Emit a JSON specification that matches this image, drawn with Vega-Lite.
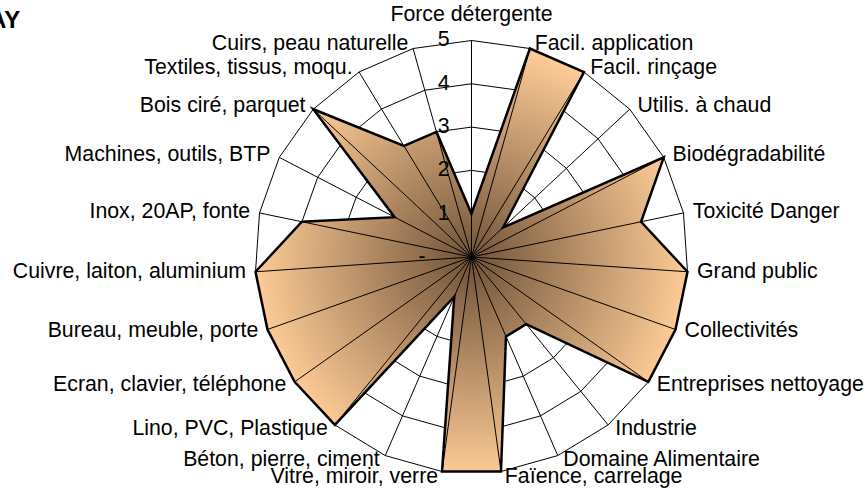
{
  "$schema": "https://vega.github.io/schema/vega-lite/v6.json",
  "width": 868,
  "height": 490,
  "autosize": {"type": "none"},
  "padding": 0,
  "background": "white",
  "config": {"view": {"stroke": null}, "font": "Liberation Sans"},
  "title": {"text": "AY", "anchor": "start", "frame": "group", "orient": "top", "offset": -33, "dx": -11, "baseline": "top", "fontSize": 24, "fontWeight": "bold", "font": "Liberation Sans", "color": "black"},
  "datasets": {
    "scores": [
      {"i": 0, "cat": "Force détergente", "value": 1},
      {"i": 1, "cat": "Facil. application", "value": 5},
      {"i": 2, "cat": "Facil. rinçage", "value": 5},
      {"i": 3, "cat": "Utilis. à chaud", "value": 1},
      {"i": 4, "cat": "Biodégradabilité", "value": 5},
      {"i": 5, "cat": "Toxicité Danger", "value": 4},
      {"i": 6, "cat": "Grand public", "value": 5},
      {"i": 7, "cat": "Collectivités", "value": 5},
      {"i": 8, "cat": "Entreprises nettoyage", "value": 5},
      {"i": 9, "cat": "Industrie", "value": 2},
      {"i": 10, "cat": "Domaine Alimentaire", "value": 2},
      {"i": 11, "cat": "Faïence, carrelage", "value": 5},
      {"i": 12, "cat": "Vitre, miroir, verre", "value": 5},
      {"i": 13, "cat": "Béton, pierre, ciment", "value": 1},
      {"i": 14, "cat": "Lino, PVC, Plastique", "value": 5},
      {"i": 15, "cat": "Ecran, clavier, téléphone", "value": 5},
      {"i": 16, "cat": "Bureau, meuble, porte", "value": 5},
      {"i": 17, "cat": "Cuivre, laiton, aluminium", "value": 5},
      {"i": 18, "cat": "Inox, 20AP, fonte", "value": 4},
      {"i": 19, "cat": "Machines, outils, BTP", "value": 2},
      {"i": 20, "cat": "Bois ciré, parquet", "value": 5},
      {"i": 21, "cat": "Textiles, tissus, moqu.", "value": 3},
      {"i": 22, "cat": "Cuirs, peau naturelle", "value": 3}
    ],
    "ticks": [
      {"r": 5, "t": "5", "z": 0},
      {"r": 4, "t": "4", "z": 0},
      {"r": 3, "t": "3", "z": 0},
      {"r": 2, "t": "2", "z": 0},
      {"r": 1, "t": "1", "z": 0}
    ],
    "zeroTick": [{"r": 0, "t": "-", "z": 0}]
  },
  "layer": [
    {
      "data": {"name": "scores"},
      "transform": [
        {"calculate": "2*PI*datum.i/23", "as": "theta"},
        {"calculate": "[1,2,3,4,5]", "as": "lv"},
        {"flatten": ["lv"]},
        {"calculate": "datum.lv*sin(datum.theta)", "as": "gx"},
        {"calculate": "datum.lv*cos(datum.theta)", "as": "gy"}
      ],
      "mark": {"type": "line", "interpolate": "linear-closed", "stroke": "black", "strokeWidth": 1},
      "encoding": {
        "x": {"field": "gx", "type": "quantitative", "scale": {"domain": [-10.889, 9.157], "nice": false, "zero": false}, "axis": null},
        "y": {"field": "gy", "type": "quantitative", "scale": {"domain": [-5.381, 5.935], "nice": false, "zero": false}, "axis": null},
        "detail": {"field": "lv", "type": "nominal"},
        "order": {"field": "i", "type": "quantitative"}
      }
    },
    {
      "data": {"name": "scores"},
      "transform": [
        {"calculate": "2*PI*datum.i/23", "as": "theta"},
        {"calculate": "datum.value*sin(datum.theta)", "as": "px"},
        {"calculate": "datum.value*cos(datum.theta)", "as": "py"}
      ],
      "mark": {
        "type": "line",
        "interpolate": "linear-closed",
        "fill": {
          "gradient": "radial",
          "x1": 0.5, "y1": 0.5, "r1": 0,
          "x2": 0.5, "y2": 0.5, "r2": 0.5,
          "stops": [
            {"offset": 0, "color": "#705238"},
            {"offset": 1, "color": "#fdcb96"}
          ]
        },
        "stroke": "black",
        "strokeWidth": 2.5,
        "strokeJoin": "miter"
      },
      "encoding": {
        "x": {"field": "px", "type": "quantitative", "scale": {"domain": [-10.889, 9.157], "nice": false, "zero": false}, "axis": null},
        "y": {"field": "py", "type": "quantitative", "scale": {"domain": [-5.381, 5.935], "nice": false, "zero": false}, "axis": null},
        "order": {"field": "i", "type": "quantitative"}
      }
    },
    {
      "data": {"name": "scores"},
      "transform": [
        {"calculate": "2*PI*datum.i/23", "as": "theta"},
        {"calculate": "5*sin(datum.theta)", "as": "ex"},
        {"calculate": "5*cos(datum.theta)", "as": "ey"},
        {"calculate": "0", "as": "ox"}
      ],
      "mark": {"type": "rule", "stroke": "black", "strokeWidth": 1},
      "encoding": {
        "x": {"field": "ex", "type": "quantitative", "scale": {"domain": [-10.889, 9.157], "nice": false, "zero": false}, "axis": null},
        "y": {"field": "ey", "type": "quantitative", "scale": {"domain": [-5.381, 5.935], "nice": false, "zero": false}, "axis": null},
        "x2": {"field": "ox"},
        "y2": {"field": "ox"}
      }
    },
    {
      "data": {"name": "scores"},
      "transform": [
        {"calculate": "2*PI*datum.i/23", "as": "theta"},
        {"calculate": "5.15*sin(datum.theta)", "as": "lx"},
        {"calculate": "5.12*cos(datum.theta)", "as": "ly"},
        {"filter": "sin(datum.theta) > 0.01"}
      ],
      "mark": {"type": "text", "align": "left", "baseline": "middle", "dx": 3, "fontSize": 21.3, "font": "Liberation Sans", "color": "black"},
      "encoding": {
        "x": {"field": "lx", "type": "quantitative", "scale": {"domain": [-10.889, 9.157], "nice": false, "zero": false}, "axis": null},
        "y": {"field": "ly", "type": "quantitative", "scale": {"domain": [-5.381, 5.935], "nice": false, "zero": false}, "axis": null},
        "text": {"field": "cat", "type": "nominal"}
      }
    },
    {
      "data": {"name": "scores"},
      "transform": [
        {"calculate": "2*PI*datum.i/23", "as": "theta"},
        {"calculate": "5.15*sin(datum.theta)", "as": "lx"},
        {"calculate": "5.12*cos(datum.theta)", "as": "ly"},
        {"filter": "sin(datum.theta) < -0.01"}
      ],
      "mark": {"type": "text", "align": "right", "baseline": "middle", "dx": -3, "fontSize": 21.3, "font": "Liberation Sans", "color": "black"},
      "encoding": {
        "x": {"field": "lx", "type": "quantitative", "scale": {"domain": [-10.889, 9.157], "nice": false, "zero": false}, "axis": null},
        "y": {"field": "ly", "type": "quantitative", "scale": {"domain": [-5.381, 5.935], "nice": false, "zero": false}, "axis": null},
        "text": {"field": "cat", "type": "nominal"}
      }
    },
    {
      "data": {"name": "scores"},
      "transform": [
        {"calculate": "2*PI*datum.i/23", "as": "theta"},
        {"calculate": "5.15*sin(datum.theta)", "as": "lx"},
        {"calculate": "5.15*cos(datum.theta)", "as": "ly"},
        {"filter": "abs(sin(datum.theta)) <= 0.01"}
      ],
      "mark": {"type": "text", "align": "center", "baseline": "middle", "dy": -19, "fontSize": 21.3, "font": "Liberation Sans", "color": "black"},
      "encoding": {
        "x": {"field": "lx", "type": "quantitative", "scale": {"domain": [-10.889, 9.157], "nice": false, "zero": false}, "axis": null},
        "y": {"field": "ly", "type": "quantitative", "scale": {"domain": [-5.381, 5.935], "nice": false, "zero": false}, "axis": null},
        "text": {"field": "cat", "type": "nominal"}
      }
    },
    {
      "data": {"name": "ticks"},
      "mark": {"type": "text", "align": "right", "baseline": "middle", "dx": -22, "fontSize": 21.3, "font": "Liberation Sans", "color": "black"},
      "encoding": {
        "x": {"field": "z", "type": "quantitative", "scale": {"domain": [-10.889, 9.157], "nice": false, "zero": false}, "axis": null},
        "y": {"field": "r", "type": "quantitative", "scale": {"domain": [-5.381, 5.935], "nice": false, "zero": false}, "axis": null},
        "text": {"field": "t", "type": "nominal"}
      }
    },
    {
      "data": {"name": "zeroTick"},
      "mark": {"type": "text", "align": "right", "baseline": "middle", "dx": -46, "fontSize": 21.3, "font": "Liberation Sans", "color": "black"},
      "encoding": {
        "x": {"field": "z", "type": "quantitative", "scale": {"domain": [-10.889, 9.157], "nice": false, "zero": false}, "axis": null},
        "y": {"field": "r", "type": "quantitative", "scale": {"domain": [-5.381, 5.935], "nice": false, "zero": false}, "axis": null},
        "text": {"field": "t", "type": "nominal"}
      }
    }
  ]
}
